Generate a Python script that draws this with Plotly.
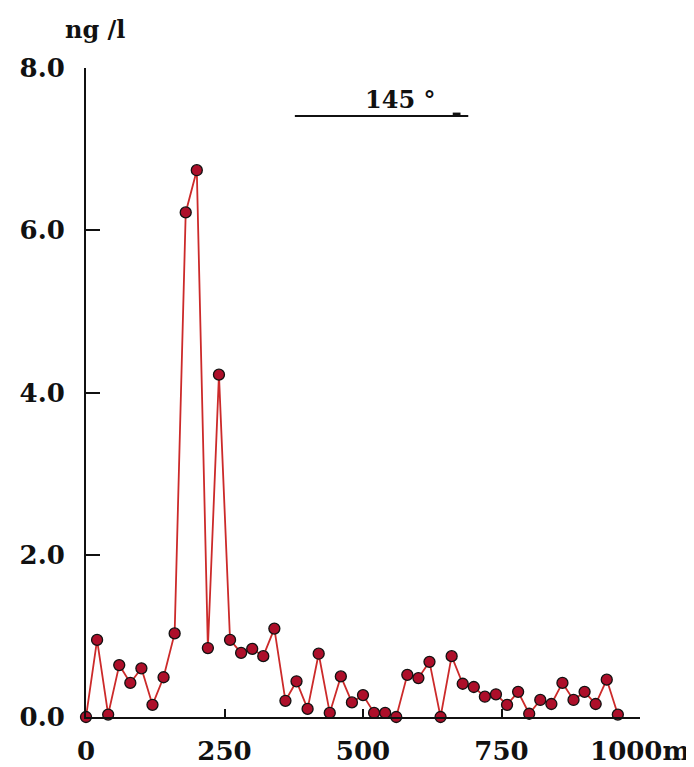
import plotly.graph_objects as go

distance_m = list(range(0, 980, 20))
conc_ng_l = [0.0, 0.95, 0.03, 0.64, 0.42, 0.60, 0.15, 0.49, 1.03, 6.22,
             6.74, 0.85, 4.22, 0.95, 0.79, 0.84, 0.75, 1.09, 0.20, 0.44,
             0.10, 0.78, 0.05, 0.50, 0.18, 0.27, 0.05, 0.05, 0.0, 0.52,
             0.48, 0.68, 0.0, 0.75, 0.41, 0.37, 0.25, 0.28, 0.15, 0.31,
             0.04, 0.21, 0.16, 0.42, 0.21, 0.31, 0.16, 0.46, 0.03]

x_tickvals = [0, 250, 500, 750, 1000]
x_ticktext = ["0", "250", "500", "750", "1000m"]
y_tickvals = [0, 2, 4, 6, 8]
y_ticktext = ["0.0", "2.0", "4.0", "6.0", "8.0"]

FONT = "DejaVu Serif"

fig = go.Figure()
fig.add_trace(go.Scatter(
    x=distance_m, y=conc_ng_l, mode="lines+markers",
    line=dict(color="#cc2a2a", width=1.8),
    marker=dict(symbol="circle", size=11, color="#ad0f2a",
                line=dict(color="#111111", width=1.3)),
    cliponaxis=False, showlegend=False,
))

# the page body adds an 8px offset, so the figure is 8px smaller and margins compensate
fig.update_layout(
    width=686, height=759, autosize=False,
    margin=dict(l=78, r=54, t=60, b=50),
    paper_bgcolor="white", plot_bgcolor="white",
    font=dict(family=FONT, size=24, color="#111111"),
    xaxis=dict(range=[0, 1000], tickvals=x_tickvals, ticktext=x_ticktext,
               automargin=False, ticklabeloverflow="allow",
               showgrid=False, zeroline=False, showline=True,
               linecolor="#111111", linewidth=2, ticks="inside", ticklen=8,
               tickwidth=2, tickcolor="#111111", ticklabelstandoff=10,
               tickfont=dict(family=FONT, size=26, color="#111111", weight="bold")),
    yaxis=dict(range=[0, 8], tickvals=y_tickvals, ticktext=y_ticktext,
               automargin=False, ticklabeloverflow="allow",
               showgrid=False, zeroline=False, showline=True,
               linecolor="#111111", linewidth=2, ticks="inside", ticklen=14,
               tickwidth=2, tickcolor="#111111", ticklabelstandoff=14,
               tickfont=dict(family=FONT, size=26, color="#111111", weight="bold")),
    shapes=[
        dict(type="line", xref="paper", yref="paper", x0=0.377, x1=0.690,
             y0=0.926, y1=0.926, line=dict(color="#111111", width=2)),
        dict(type="line", xref="paper", yref="paper", x0=0.662, x1=0.676,
             y0=0.929, y1=0.929, line=dict(color="#111111", width=3)),
    ],
    annotations=[
        dict(text="<b>145 °</b>", xref="paper", yref="paper", x=0.567, y=0.951,
             xanchor="center", yanchor="middle", showarrow=False,
             font=dict(family=FONT, size=24, color="#111111")),
        dict(text="<b>ng /l</b>", xref="paper", yref="paper", x=0.016, y=1.0586,
             xanchor="center", yanchor="middle", showarrow=False,
             font=dict(family=FONT, size=24, color="#111111")),
    ],
)

fig.write_html("out.html")
